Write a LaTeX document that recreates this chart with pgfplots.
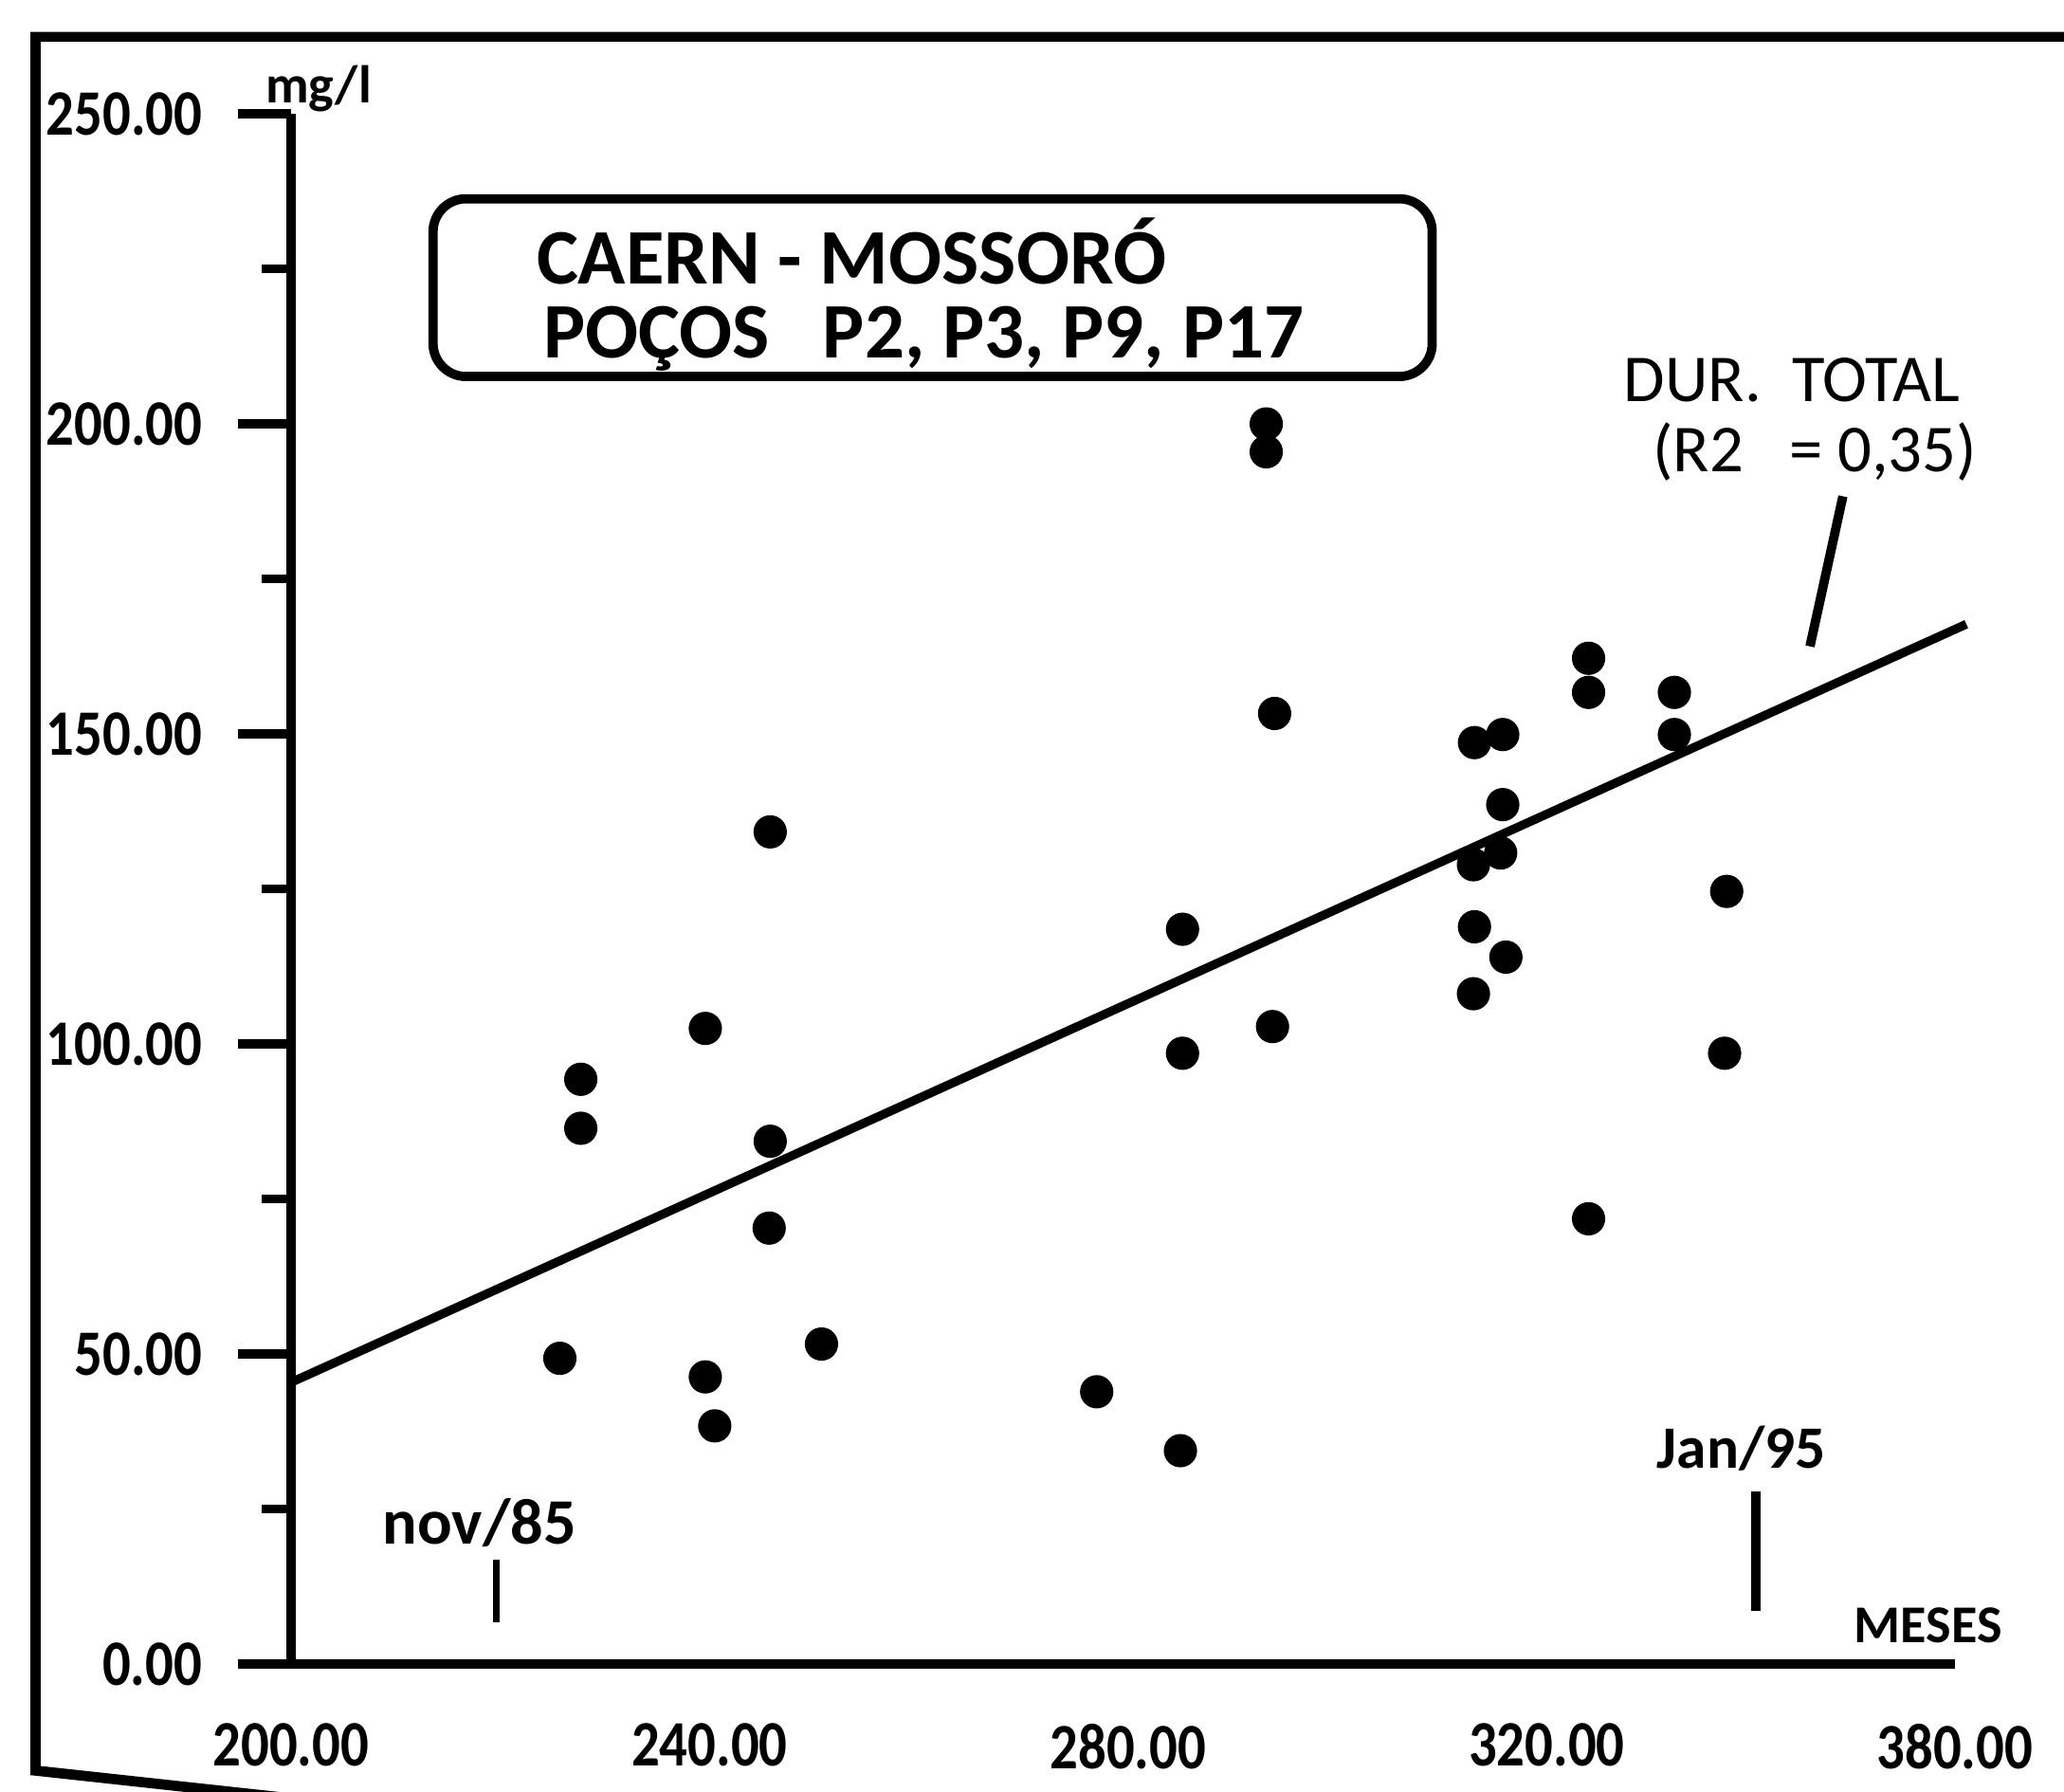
\documentclass[border=0pt]{standalone}
\usepackage{fontspec}
\setmainfont{Carlito}
\setsansfont{Carlito}
\usepackage{graphicx}
\usepackage{pgfplots}
\pgfplotsset{compat=1.18}
\newcommand{\tk}[1]{\scalebox{0.86}[1]{#1}}
\begin{document}
\begin{tikzpicture}
\path[use as bounding box] (0,0) rectangle (15.68,13.61);
\begin{axis}[
  at={(2.21cm,0.97cm)}, anchor=south west,
  x=0.795mm, y=0.471mm,
  xmin=200, xmax=359, ymin=0, ymax=250,
  axis lines*=left,
  axis line style={line width=2.1pt},
  clip=false,
  tick align=outside,
  major tick length=4mm, minor tick length=2.2mm,
  every tick/.style={black, line width=2pt},
  ytick={0,50,...,250},
  minor ytick={25,75,...,225},
  yticklabels={\tk{0.00},\tk{50.00},\tk{100.00},\tk{150.00},\tk{200.00},\tk{250.00}},
  xtick={200,240,280,320,359},
  xticklabels={\tk{200.00},\tk{240.00},\tk{280.00},\tk{320.00},\tk{380.00}},
  xtick style={draw=none},
  tick label style={font=\fontsize{14}{16}\selectfont\bfseries},
  yticklabel style={xshift=-1.5mm},
  xticklabel style={yshift=0.7mm},
]
% pontos observados
\addplot[only marks, mark=*, mark size=3.4pt, black] coordinates {
  (225.7,49.3) (227.7,94.3) (227.7,86.4) (239.6,102.5) (239.6,46.3)
  (240.5,38.4) (245.8,134.2) (245.8,84.3) (245.7,70.3) (250.7,51.6)
  (277.0,43.9) (285.2,118.5) (285.2,98.5) (285.0,34.4) (293.2,200.0)
  (293.2,195.5) (294.0,153.3) (293.8,102.8) (313.1,148.6) (315.8,149.9)
  (315.8,138.6) (313.0,128.9) (315.6,130.8) (313.1,118.9) (316.1,114.0)
  (313.0,108.1) (324.0,162.2) (324.0,156.7) (324.0,71.8) (332.2,156.7)
  (332.2,149.9) (337.2,124.6) (337.0,98.5)
};
% reta de regressao
\addplot[black, line width=1.9pt] coordinates {(200,45.4) (360.1,167.7)};
\end{axis}
% moldura
\draw[line width=2.2pt] (15.9,13.33) -- (0.27,13.33) -- (0.27,0.16) -- (2.2,-0.05);
% caixa de titulo
\draw[line width=2pt, rounded corners=2.5mm] (3.29,10.75) rectangle (10.88,12.10);
\node[anchor=base west, inner sep=0, font=\fontsize{17}{19}\selectfont\bfseries] at (4.07,11.45) {CAERN - MOSSORÓ};
\node[anchor=base west, inner sep=0, font=\fontsize{17}{19}\selectfont\bfseries] at (4.12,10.89) {POÇOS\ \ \ P2, P3, P9, P17};
% anotacoes
\node[anchor=base west, inner sep=0, font=\fontsize{14.5}{16}\selectfont] at (12.33,10.56) {DUR.\ \ TOTAL};
\node[anchor=base west, inner sep=0, font=\fontsize{14.5}{16}\selectfont] at (12.55,10.03) {(R2\ \ \ =\ 0,35)};
\draw[line width=2pt] (14.00,9.84) -- (13.75,8.70);
\node[anchor=base west, inner sep=0, font=\fontsize{11.5}{13}\selectfont\bfseries] at (2.01,12.83) {mg/l};
\node[anchor=base west, inner sep=0, font=\fontsize{14}{16}\selectfont\bfseries] at (2.90,1.88) {nov/85};
\draw[line width=1.3pt] (3.77,1.76) -- (3.77,1.29);
\node[anchor=base, inner sep=0, font=\fontsize{13}{15}\selectfont\bfseries] at (13.23,2.46) {Jan/95};
\draw[line width=2pt] (13.34,2.28) -- (13.34,1.37);
\node[anchor=base west, inner sep=0, font=\fontsize{11.5}{13}\selectfont\bfseries] at (14.08,1.13) {MESES};
\end{tikzpicture}
\end{document}
